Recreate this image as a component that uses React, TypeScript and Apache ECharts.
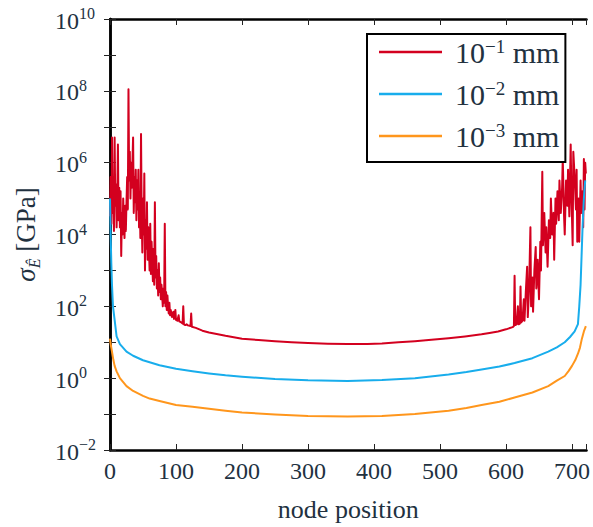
import React, { useEffect, useRef } from "react";
import * as echarts from "echarts";

// ---- data (node position, stress value) ----
const seriesNames = ["1e-1 mm", "1e-2 mm", "1e-3 mm"];
const legendExps = ["−1", "−2", "−3"];
const xTickLabels = ["0", "100", "200", "300", "400", "500", "600", "700"];

const redX = [
  0, 1, 2, 3, 4, 5, 6, 7, 8, 9, 10, 11, 12, 13, 14, 15, 16, 17, 18, 19, 20, 21, 22, 23, 24, 25, 26, 27, 28, 29,
  30, 31, 32, 33, 34, 35, 36, 37, 38, 39, 40, 41, 42, 43, 44, 45, 46, 47, 48, 49, 50, 51, 52, 53, 54, 55, 56, 57,
  58, 59, 60, 61, 62, 63, 64, 65, 66, 67, 68, 69, 70, 71, 72, 73, 74, 75, 76, 77, 78, 79, 80, 81, 82, 83, 84, 85,
  86, 87, 88, 89, 90, 91, 92, 94, 96, 97, 99, 100, 102, 104, 105, 108, 110, 111, 112, 114, 116, 118, 122, 123, 124,
  130, 140, 150, 175, 200, 225, 250, 275, 300, 330, 360, 390, 412, 437, 462, 487, 513, 538, 563, 575, 588, 600, 610,
  612, 613, 614, 616, 618, 619, 621, 622, 623, 625, 627, 628, 630, 632, 633, 635, 637, 638, 640, 641, 643, 645, 646,
  648, 650, 652, 653, 655, 656, 658, 660, 661, 663, 665, 667, 668, 670, 672, 673, 675, 676, 678, 680, 681, 683, 685,
  686, 688, 689, 691, 693, 694, 696, 698, 699, 701, 702, 704, 706, 707, 708, 710, 711, 713, 714, 716, 717, 718, 719,
  720, 721,
];
const redY = [
  3.2e4, 4e5, 2e4, 5e6, 4e4, 1.6e5, 1.26e4, 5e6, 6.3e4, 2.5e5, 1.58e4, 1e5, 3.2e6, 2.5e4, 2e5, 1.58e4, 1.6e5, 2512,
  4e4, 1e4, 1e5, 2.5e4, 7943, 6.3e4, 1.26e4, 7.9e4, 4e5, 5e4, 1.1e8, 3.2e5, 2e6, 1e5, 1e6, 2e5, 1e6, 5e6, 4e4, 4e5,
  7.9e4, 6.3e5, 2.5e4, 3.2e5, 5e4, 6.3e5, 1.58e4, 1.26e5, 7943, 6.3e6, 3.2e4, 3162, 1e5, 1e4, 5e5, 1000, 2.5e4,
  3981, 7.9e4, 1995, 1.58e4, 3981, 1000, 2e4, 794, 6310, 1585, 501, 3981, 398, 7.9e4, 631, 2512, 316, 1000, 200,
  1585, 251, 631, 158, 398, 200, 100, 316, 126, 2e4, 100, 251, 79.4, 200, 100, 63.1, 126, 56.2, 79.4, 50.1, 70.8,
  44.7, 79.4, 41.7, 39.8, 56.2, 38, 35.5, 33.1, 100, 31.6, 30.2, 31.6, 29.5, 28.2, 63.1, 26.9,
  25.1, 21, 18.6, 15.1, 12.6, 11.5, 10.7, 10, 9.5, 9.1, 8.9, 9.0, 9.3, 10, 10.7, 11.7, 12.9, 14.5, 16.6, 18.2, 20,
  22.9, 26.3,
  28.2, 708, 30.2, 31.6, 100, 31.6, 33.1, 355, 35.5, 39.8, 158, 39.8, 251, 1259, 50.1, 316, 1.58e4, 100, 631, 70.8,
  1000, 4467, 316, 1995, 158, 6310, 1000, 5.6e5, 5012, 4e4, 3162, 1.58e4, 1259, 2.5e4, 7943, 1e5, 1e4, 4e4, 1995,
  1e5, 2e4, 1.6e5, 2.5e4, 3.2e5, 4e4, 2e5, 1.26e6, 3.2e4, 1e4, 3.2e5, 6.3e4, 6.3e5, 3.2e4, 3.2e6, 1.6e5, 5012, 2e6,
  4e5, 5e4, 6.3e5, 6310, 1e5, 6310, 3.2e5, 4e4, 1.6e5, 1.58e4, 1.26e6, 5e4, 1e6, 5e5,
];

const blueX = [
  0, 1, 2, 3, 4.5, 6.5, 10, 15, 25, 35, 50, 75, 100, 125, 150, 175, 200, 250, 300, 360, 412, 462, 513, 540, 563,
  590, 613, 640, 664, 677, 689, 697, 704, 709, 711, 713, 714.5, 716, 718, 720, 721,
];
const blueY = [
  1e5, 1e4, 1585, 398, 100, 50.1, 14.5, 8.9, 5.5, 4.2, 3.16, 2.3, 1.82, 1.55, 1.35, 1.2, 1.1, 0.95, 0.87, 0.83,
  0.89, 1.0, 1.26, 1.48, 1.74, 2.1, 2.63, 3.6, 5.5, 7.2, 10, 14, 20, 32, 100, 400, 2500, 1.6e4, 1e5, 3.2e5, 3.2e5,
];

const orangeX = [
  0, 1, 2.5, 5, 7, 10, 15, 25, 35, 50, 60, 75, 100, 125, 150, 175, 200, 250, 300, 360, 412, 462, 513, 540, 563,
  590, 613, 640, 664, 677, 689, 695, 700, 705, 709, 712, 715, 718, 721,
];
const orangeY = [
  12.6, 8.9, 6.2, 3.3, 2.2, 1.55, 1.0, 0.6, 0.44, 0.32, 0.27, 0.23, 0.18, 0.16, 0.14, 0.123, 0.11, 0.098, 0.089,
  0.085, 0.089, 0.1, 0.123, 0.148, 0.178, 0.22, 0.29, 0.4, 0.6, 0.85, 1.15, 1.6, 2.2, 3.2, 4.8, 7, 12.6, 20, 28,
];

const colors = ["#d3001f", "#18adec", "#ff961c"];
const FONT = "Liberation Serif, DejaVu Serif, serif";
const TXT = "#22313f";

function pairs(xs: number[], ys: number[]) {
  return xs.map((x, i) => [x, ys[i]]);
}

export default function App() {
  const ref = useRef<HTMLDivElement>(null);
  useEffect(() => {
    if (!ref.current) return;
    const chart = echarts.init(ref.current, undefined, { renderer: "svg" });
    const tickRich = {
      b: { fontSize: 24, fontFamily: FONT, color: TXT, lineHeight: 27, verticalAlign: "bottom" },
      s: { fontSize: 16, fontFamily: FONT, color: TXT, lineHeight: 16, verticalAlign: "top" },
    };
    const legendRich = {
      b: { fontSize: 30, fontFamily: FONT, color: TXT, lineHeight: 30, verticalAlign: "bottom" },
      s: { fontSize: 19, fontFamily: FONT, color: TXT, lineHeight: 19, verticalAlign: "top" },
    };
    const axisLine = { show: true, lineStyle: { color: "#000", width: 2.5 } };
    const tick = { show: true, inside: true, length: 6, lineStyle: { color: "#222", width: 1 } };
    const option: any = {
      animation: false,
      backgroundColor: "#fff",
      grid: { left: 110, right: 5, top: 19, bottom: 74, containLabel: false },
      legend: {
        orient: "vertical",
        left: 367,
        top: 34,
        padding: [3, 6, 11, 12],
        backgroundColor: "#fff",
        borderColor: "#000",
        borderWidth: 2,
        borderRadius: 0,
        icon: "rect",
        itemWidth: 63,
        itemHeight: 2.5,
        itemGap: 12,
        data: seriesNames,
        formatter: (name: string) => {
          const i = seriesNames.indexOf(name);
          return `{b|10}{s|${legendExps[i]}}{b| mm}`;
        },
        textStyle: { padding: [0, 0, 0, 8], rich: legendRich },
      },
      xAxis: [
        {
          type: "value",
          position: "bottom",
          min: 0,
          max: 722,
          interval: 100,
          axisLine,
          axisTick: tick,
          splitLine: { show: false },
          axisLabel: {
            margin: 9,
            fontSize: 24,
            fontFamily: FONT,
            color: TXT,
            formatter: (v: number) => (xTickLabels.includes(String(v)) ? String(v) : ""),
          },
          name: "node position",
          nameLocation: "middle",
          nameGap: 46,
          nameTextStyle: { fontSize: 26, fontFamily: FONT, color: TXT },
        },
        {
          type: "value",
          position: "top",
          min: 0,
          max: 722,
          interval: 100,
          axisLine,
          axisTick: tick,
          splitLine: { show: false },
          axisLabel: { show: false },
        },
      ],
      yAxis: [
        {
          type: "log",
          logBase: 10,
          position: "left",
          min: 0.01,
          max: 1e10,
          interval: 1,
          axisLine,
          axisTick: tick,
          splitLine: { show: false },
          axisLabel: {
            align: "left",
            margin: 55,
            formatter: (v: number) => {
              const e = Math.round(Math.log10(v));
              if (e % 2 !== 0) return "";
              return `{b|10}{s|${e < 0 ? "−" + -e : e}}`;
            },
            rich: tickRich,
          },
          name: "{i|σ}{sub|Ê}{r| [GPa]}",
          nameLocation: "middle",
          nameGap: 68,
          nameTextStyle: {
            rich: {
              i: { fontSize: 27, fontFamily: FONT, fontStyle: "italic", color: TXT, lineHeight: 30, verticalAlign: "top" },
              sub: { fontSize: 16, fontFamily: FONT, fontStyle: "italic", color: TXT, lineHeight: 16, verticalAlign: "bottom" },
              r: { fontSize: 27, fontFamily: FONT, color: TXT, lineHeight: 30, verticalAlign: "top" },
            },
          },
        },
        {
          type: "log",
          logBase: 10,
          position: "right",
          min: 0.01,
          max: 1e10,
          interval: 1,
          axisLine,
          axisTick: tick,
          splitLine: { show: false },
          axisLabel: { show: false },
        },
      ],
      series: [
        { name: seriesNames[0], data: pairs(redX, redY), color: colors[0] },
        { name: seriesNames[1], data: pairs(blueX, blueY), color: colors[1] },
        { name: seriesNames[2], data: pairs(orangeX, orangeY), color: colors[2] },
      ].map((s) => ({
        ...s,
        type: "line",
        xAxisIndex: 0,
        yAxisIndex: 0,
        symbol: "none",
        showSymbol: false,
        lineStyle: { width: 2, color: s.color, join: "round" },
        itemStyle: { color: s.color },
        z: 2,
      })),
    };
    chart.setOption(option);
    return () => chart.dispose();
  }, []);
  return (
    <div
      ref={ref}
      style={{ position: "absolute", left: 0, top: 0, width: 593, height: 527, background: "#fff" }}
    />
  );
}
